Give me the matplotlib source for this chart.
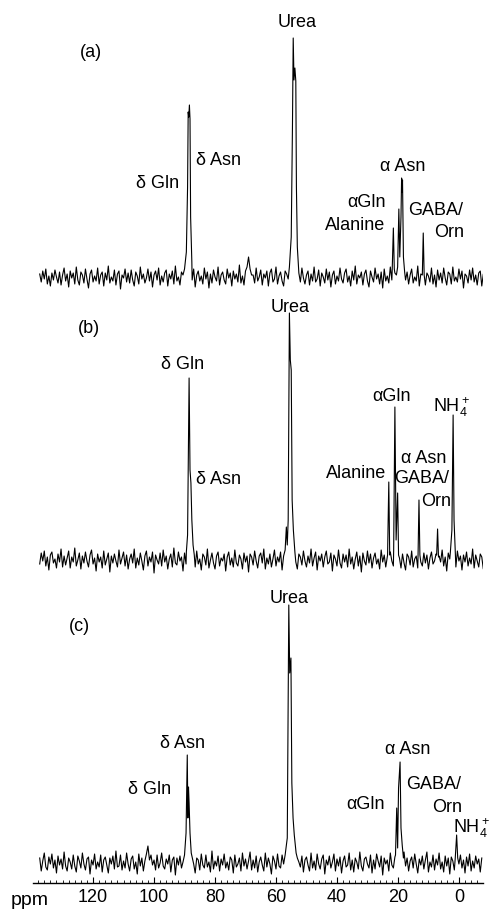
import numpy as np
import matplotlib

matplotlib.use("Agg")
import matplotlib.pyplot as plt
from matplotlib.ticker import MultipleLocator

plt.rcParams["font.family"] = ["Liberation Sans", "DejaVu Sans"]
plt.rcParams["mathtext.fontset"] = "custom"
plt.rcParams["mathtext.rm"] = "Liberation Sans"

# spectra sampled every 0.5 ppm starting at 137.5 ppm
PPM_START = 137.5
PPM_STEP = 0.5
PPM_END = -8.5

# baseline noise (arbitrary intensity units)
noise_a = [
    3, -5, 6, -2, 8, -7, 1, -9, 4, -3, 7, 0, -6, 5, -8, 2, 9, -4, 3, -10,
    6, -1, 4, -7, 10, -3, -8, 5, 2, -6, 8, -2, -11, 3, 7, -5, 1, -4, 9, -7,
    2, 5, -9, 4, -3, 11, -6, 0, -4, 7, -8, 3, 6, -12, 2, -1, 8, -5, 4, -6,
    7, -3, -9, 5, 1, -7, 10, -2, 3, -6, -1, 8, -4, 5, -10, 2, 6, -3, 9, -8,
    1, -5, 4, 7, -9, 3, -2, 6, -7, 11, -4, 0, -8, 5, 2, -6, 9, -1, -5, 4,
    -3, 8, -10, 2, 6, -4, 1, -7, 9, -2, 5, -11, 3, -6, 7, 0, -4, 10, -8, 2,
    5, -3, -7, 8, -1, 4, -9, 6, -2, 3, -5, 12, -6, 1, -8, 6, 10, 20, 8, 2,
    2, -6, 9, -4, 0, 7, -8, 3, -1, 6, -9, 4, 8, -5, -2, 10, -7, 1, 5, -4,
    -9, 6, 3, -2, 8, -6, 1, -11, 7, -3, 4, -5, 9, -1, -7, 2, 6, -8, 3, -4,
    10, -5, -2, 7, -9, 4, 0, -6, 8, -3, 5, -10, 2, 6, -7, 1, -4, 9, -2, -6,
    4, 8, -5, 1, -9, 6, -3, 11, -7, 2, -1, 5, -8, 3, 7, -4, -10, 6, 0, -5,
    9, -2, 3, -7, 5, -11, 8, -4, 1, -6, 10, -3, -8, 4, 2, -5, 7, -1, -9, 6,
    -3, 5, -7, 2, 8, -6, 0, -4, 11, -9, 3, -2, 6, -8, 4, 1, -5, 9, -7, 2,
    -10, 7, -3, 4, -6, 9, -1, -8, 5, 3, -7, 10, -4, 0, -5, 8, -2, 6, -11, 3,
    1, -6, 7, -3, 9, -5, 2, -8, 4, 6, -9, 3, -1, 5, -7,
]
noise_b = [
    -4, 7, -1, 9, -6, 3, -10, 5, 8, -3, 1, -8, 6, -2, 11, -7, 4, -5, 2, 9,
    -8, 3, -2, 12, -6, 0, 7, -9, 4, -3, 8, -1, -7, 5, 10, -4, 2, -11, 6, -2,
    3, -8, 9, -5, 1, 7, -12, 4, -3, 6, -1, -7, 10, -4, 2, 8, -6, 5, -9, 1,
    6, -3, 11, -8, 2, -5, 7, -1, -10, 4, 9, -6, 3, -2, 8, -13, 5, 0, -4, 7,
    -6, 10, -2, 4, -9, 1, 6, -7, 12, -3, -5, 8, -1, 3, -11, 7, -4, 2, 9, -8,
    5, -2, -7, 9, -4, 1, -10, 6, 3, -5, 11, -8, 0, 7, -3, -9, 4, 8, -6, 2,
    -1, 6, -11, 3, 8, -5, 2, -7, 10, -3, -6, 5, 1, -9, 7, -2, 4, -12, 6, 3,
    -5, 9, -1, -8, 4, 7, -3, 11, -9, 2, -4, 6, -7, 1, 10, -6, 3, -2, 8, -10,
    4, -3, 7, -6, 1, 12, -8, 5, -2, -9, 6, 3, -5, 9, -1, -7, 4, -3, 11, -6,
    2, 8, -10, 4, -1, 6, -7, 3, 9, -4, -2, 7, -11, 5, 1, -6, 10, -3, -8, 6,
    -2, 5, -7, 11, -4, 3, -9, 1, 8, -6, 4, -12, 7, -1, -5, 9, -3, 6, -8, 2,
    7, -4, 1, -9, 10, -2, 5, -7, 3, -11, 8, -1, -6, 4, 12, -5, 2, -8, 6, -3,
    -10, 6, 3, -5, 9, -7, 1, 4, -8, 11, -2, -6, 7, -3, 5, -9, 2, 8, -4, -1,
    6, -9, 4, -2, 10, -6, 3, -11, 7, 1, -5, 8, -3, -7, 9, -1, 4, -10, 5, -2,
    8, -6, 2, -4, 11, -8, 5, -1, -7, 6, 3, -9, 7, -3, 4,
]
noise_c = [
    5, -8, 2, 10, -4, -7, 6, -1, 9, -5, 3, -10, 7, -2, 4, -6, 11, -3, -8, 5,
    1, -6, 8, -3, -9, 7, 2, -5, 10, -1, -7, 4, 6, -11, 3, -2, 9, -6, 1, -4,
    8, -9, 3, 6, -2, -10, 5, -1, 7, -6, 12, -4, -3, 8, -7, 2, -5, 10, -1, -8,
    4, 7, -6, 1, -11, 9, -3, 5, -8, 2, 9, 17, 3, 8, -2, 3, -7, 8, -5, 0,
    10, -3, -6, 4, -1, 8, -9, 3, 6, -12, 5, -2, 7, -5, 1, -8, 9, -4, 2, -7,
    6, -1, -10, 5, 3, -7, 9, -2, -5, 8, -4, 1, -9, 12, -6, 2, -3, 7, -8, 4,
    -2, 9, -5, 1, -7, 6, 3, -10, 8, -4, -1, 5, -8, 10, -3, 4, -6, 2, 11, -7,
    3, -5, 7, -9, 1, 6, -2, -8, 10, -4, 5, -1, -11, 7, 2, -6, 9, -3, -5, 8,
    -1, 4, -7, 11, -6, 2, -3, 8, -10, 5, 1, -4, 7, -9, 3, 6, -2, -8, 10, -5,
    2, -7, 9, -1, -6, 4, 8, -11, 3, -2, 7, -5, 1, 9, -8, 4, -3, 6, -10, 2,
    7, -4, -2, 10, -7, 3, -9, 5, 1, -6, 11, -3, -8, 4, 6, -1, -5, 8, -10, 3,
    -6, 9, 2, -4, 7, -12, 5, -1, 3, -8, 10, -2, -5, 6, -7, 1, 8, -4, -9, 11,
    -3, 5, -8, 2, 6, -5, 9, -1, -10, 4, -2, 7, -6, 3, 11, -9, 1, -4, 8, -7,
    4, -2, 10, -6, 1, -9, 7, -3, 5, -11, 6, 2, -7, 9, -4, -1, 8, -5, 3, -10,
    6, -3, 9, -8, 2, -5, 7, -1, 4, -9, 5,
]

# peak outlines as (ppm, intensity) points
peaks_a = [
    [(90.0, 8), (89.4, 25), (89.0, 90), (88.8, 165), (88.6, 160), (88.4, 172),
     (88.2, 158), (88.0, 60), (87.6, 15)],
    [(55.6, 10), (55.0, 40), (54.6, 150), (54.35, 239), (54.1, 197), (53.8, 209),
     (53.5, 196), (53.3, 90), (53.0, 30), (52.6, 8)],
    [(21.9, 5), (21.5, 49), (21.2, 8)],
    [(20.1, 10), (19.7, 68), (19.4, 20), (19.0, 60), (18.8, 99), (18.6, 85),
     (18.5, 97), (18.2, 20), (17.8, 5)],
    [(12.0, 2), (11.7, 44), (11.4, 2)],
]
peaks_b = [
    [(89.4, 8), (89.0, 25), (88.5, 182), (88.2, 90), (87.9, 77), (87.6, 40),
     (87.2, 15), (86.8, 5)],
    [(57.0, 10), (56.6, 33), (56.3, 15), (56.0, 40), (55.6, 247), (55.3, 200),
     (55.0, 190), (54.7, 60), (54.3, 30), (53.8, 8)],
    [(23.4, 5), (23.0, 78), (22.7, 5)],
    [(21.4, 10), (21.0, 153), (20.6, 20), (20.1, 67), (19.8, 5)],
    [(13.4, 5), (13.1, 60), (12.8, 5)],
    [(7.3, 5), (7.0, 31), (6.7, 3)],
    [(2.8, 8), (2.3, 30), (1.9, 145), (1.6, 40), (1.2, 10)],
]
peaks_c = [
    [(90.0, 8), (89.5, 30), (89.1, 108), (88.9, 45), (88.7, 76), (88.5, 60),
     (88.2, 30), (87.8, 10)],
    [(57.0, 8), (56.3, 25), (55.8, 258), (55.5, 190), (55.1, 205), (54.8, 80),
     (54.4, 45), (54.0, 28), (53.4, 10)],
    [(20.8, 8), (20.4, 55), (20.1, 15), (19.8, 75), (19.3, 101), (19.0, 35),
     (18.6, 18), (18.2, 5)],
    [(1.2, 5), (0.75, 28), (0.4, 5)],
]

NH4 = r"NH$\mathregular{_4^+}$"
labels_a = [("Urea", 53.1, 250), ("(a)", 120.7, 220), ("δ Asn", 78.7, 112),
            ("δ Gln", 98.9, 89), ("α Asn", 18.5, 106), ("αGln", 30.2, 70),
            ("Alanine", 34.1, 47), ("GABA/", 7.5, 62), ("Orn", 3.3, 40)]
labels_b = [("Urea", 55.4, 248), ("(b)", 121.3, 227), ("δ Gln", 90.7, 191),
            ("δ Asn", 78.7, 76), ("αGln", 22.0, 159), (NH4, 2.3, 148),
            ("α Asn", 11.5, 97), ("Alanine", 33.8, 82), ("GABA/", 12.1, 77),
            ("Orn", 7.5, 54)]
labels_c = [("Urea", 55.7, 260), ("(c)", 124.6, 232), ("δ Asn", 90.7, 115),
            ("δ Gln", 101.6, 69), ("α Asn", 16.9, 109), ("GABA/", 8.2, 74),
            ("Orn", 3.9, 51), ("αGln", 30.5, 54), (NH4, -4.3, 30)]

tick_values = [120, 100, 80, 60, 40, 20, 0]


def build_trace(noise, peaks):
    ppm = PPM_START - PPM_STEP * np.arange(len(noise))
    vals = np.asarray(noise, dtype=float)
    keep = np.ones(len(ppm), dtype=bool)
    px, pv = [], []
    for group in peaks:
        gx = [p for p, _ in group]
        keep &= ~((ppm <= max(gx)) & (ppm >= min(gx)))
        px += gx
        pv += [h for _, h in group]
    x = np.concatenate([ppm[keep], px])
    v = np.concatenate([vals[keep], pv])
    order = np.argsort(-x)
    x, v = x[order], v[order]
    m = x >= PPM_END
    return x[m], v[m]


fig = plt.figure(figsize=(4.9, 9.09), dpi=100)
ax = fig.add_axes([33 / 490, 26 / 909, 450 / 490, 883 / 909])
ax.set_xlim(139.7, -7.9)
ax.set_ylim(0, 883)

# vertical offset of each trace's baseline
panels = [
    (noise_a, peaks_a, labels_a, 606),
    (noise_b, peaks_b, labels_b, 323),
    (noise_c, peaks_c, labels_c, 20),
]
for noise, peaks, labels, offset in panels:
    x, v = build_trace(noise, peaks)
    ax.plot(x, v + offset, color="black", linewidth=0.8)
    for text, xp, yp in labels:
        ax.text(xp, yp + offset, text, ha="center", va="baseline",
                fontsize=13, clip_on=False)

for side in ("top", "left", "right"):
    ax.spines[side].set_visible(False)
ax.spines["bottom"].set_linewidth(1.0)
ax.set_yticks([])
ax.set_xticks(tick_values)
ax.set_xticklabels([str(t) for t in tick_values])
ax.xaxis.set_minor_locator(MultipleLocator(2))
ax.tick_params(axis="x", which="major", direction="in", length=4, width=0.8,
               labelsize=13, pad=4)
ax.tick_params(axis="x", which="minor", direction="in", length=2.5, width=0.6)
ax.text(140.7, -22, "ppm", ha="center", va="baseline", fontsize=14, clip_on=False)

fig.savefig("out.png", dpi=100)
